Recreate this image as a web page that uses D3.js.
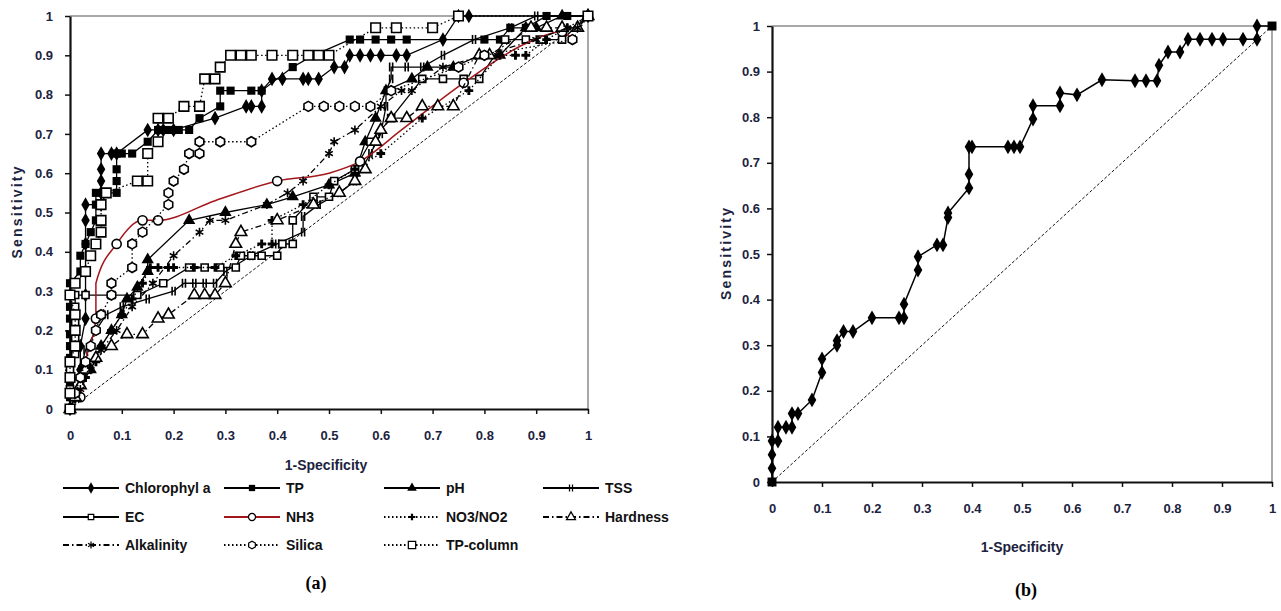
<!DOCTYPE html>
<html>
<head>
<meta charset="utf-8">
<script src="https://cdn.jsdelivr.net/npm/d3@7"></script>
<style>
  body { margin: 0; background: #fff; }
  svg text { font-family: "Liberation Sans Narrow", "Arial Narrow", "Liberation Sans", sans-serif; font-weight: bold; fill: #1c2340; }
  .tick text { font-size: 13px; }
  .title { font-size: 14px; }
  .legend text { font-size: 14px; fill: #111; }
  .panel { font-family: "Liberation Serif", serif !important; font-size: 18px; fill: #000 !important; }
</style>
</head>
<body>
<svg id="chart" width="1281" height="611"></svg>
<script>
// ticks shared by both panels
var tickValues = [0, 0.1, 0.2, 0.3, 0.4, 0.5, 0.6, 0.7, 0.8, 0.9, 1];
var tickLabels = ["0", "0.1", "0.2", "0.3", "0.4", "0.5", "0.6", "0.7", "0.8", "0.9", "1"];

// panel (a) series, [1-specificity, sensitivity]
var seriesNames = ["Chlorophyl a", "TP", "pH", "TSS", "EC", "NH3", "NO3/NO2", "Hardness", "Alkalinity", "Silica", "TP-column"];

var chlorophyll = [[0,0],[0.01,0.03],[0.02,0.06],[0.02,0.1],[0.02,0.16],[0.03,0.23],[0.03,0.29],[0.03,0.35],[0.03,0.42],[0.03,0.48],[0.03,0.52],[0.06,0.52],[0.06,0.55],[0.06,0.58],[0.06,0.61],[0.06,0.65],[0.08,0.65],[0.09,0.65],[0.15,0.71],[0.17,0.71],[0.18,0.71],[0.2,0.71],[0.28,0.74],[0.34,0.77],[0.35,0.77],[0.37,0.77],[0.37,0.81],[0.39,0.84],[0.41,0.84],[0.45,0.84],[0.46,0.84],[0.48,0.84],[0.51,0.87],[0.53,0.87],[0.54,0.9],[0.56,0.9],[0.58,0.9],[0.6,0.9],[0.63,0.9],[0.65,0.9],[0.72,0.94],[0.75,1],[0.77,1],[1,1]];
var tp = [[0,0],[0,0.03],[0,0.06],[0,0.1],[0,0.13],[0,0.16],[0,0.19],[0,0.23],[0,0.26],[0,0.29],[0,0.32],[0.02,0.35],[0.02,0.39],[0.03,0.42],[0.04,0.45],[0.05,0.48],[0.05,0.52],[0.05,0.55],[0.07,0.55],[0.09,0.55],[0.09,0.58],[0.09,0.61],[0.09,0.65],[0.1,0.65],[0.12,0.65],[0.15,0.68],[0.17,0.71],[0.19,0.71],[0.21,0.71],[0.23,0.71],[0.25,0.74],[0.29,0.77],[0.29,0.81],[0.31,0.81],[0.35,0.81],[0.37,0.81],[0.43,0.87],[0.47,0.9],[0.54,0.94],[0.56,0.94],[0.59,0.94],[0.62,0.94],[0.65,0.94],[0.8,0.94],[0.83,0.94],[0.85,0.97],[0.88,0.97],[0.92,1],[0.96,1],[1,1]];
var ph = [[0,0],[0.01,0.03],[0.02,0.06],[0.04,0.1],[0.05,0.13],[0.06,0.16],[0.08,0.2],[0.1,0.24],[0.11,0.28],[0.13,0.31],[0.15,0.35],[0.15,0.38],[0.23,0.48],[0.3,0.5],[0.38,0.52],[0.43,0.54],[0.5,0.57],[0.55,0.6],[0.57,0.68],[0.59,0.74],[0.61,0.81],[0.66,0.84],[0.69,0.87],[0.74,0.87],[0.79,0.9],[0.81,0.9],[0.83,0.9],[0.88,0.97],[0.9,0.97],[0.95,1],[1,1]];
var tss = [[0,0],[0,0.05],[0.02,0.1],[0.03,0.15],[0.05,0.2],[0.07,0.24],[0.1,0.26],[0.15,0.28],[0.2,0.3],[0.22,0.32],[0.24,0.32],[0.26,0.32],[0.28,0.32],[0.3,0.35],[0.35,0.39],[0.4,0.42],[0.45,0.45],[0.45,0.49],[0.48,0.52],[0.52,0.55],[0.55,0.58],[0.58,0.65],[0.6,0.7],[0.61,0.77],[0.61,0.81],[0.62,0.84],[0.62,0.87],[0.65,0.87],[0.68,0.87],[0.72,0.9],[0.78,0.94],[0.85,0.97],[0.9,1],[1,1]];
var ec = [[0,0],[0,0.05],[0,0.1],[0.01,0.14],[0.01,0.18],[0.01,0.22],[0.01,0.26],[0.01,0.29],[0.03,0.29],[0.08,0.29],[0.13,0.29],[0.18,0.32],[0.23,0.36],[0.26,0.36],[0.29,0.36],[0.32,0.36],[0.33,0.39],[0.35,0.39],[0.37,0.39],[0.4,0.39],[0.41,0.42],[0.43,0.42],[0.43,0.48],[0.47,0.54],[0.5,0.54],[0.51,0.58],[0.55,0.61],[0.58,0.68],[0.62,0.74],[0.68,0.84],[0.72,0.84],[0.76,0.84],[0.79,0.84],[0.84,0.94],[0.88,0.94],[0.91,0.94],[0.95,0.94],[1,1]];
var nh3 = [[0.02,0.03],[0.03,0.12],[0.05,0.23],[0.05,0.32],[0.09,0.42],[0.14,0.48],[0.17,0.48],[0.28,0.53],[0.4,0.58],[0.5,0.6],[0.56,0.63],[0.64,0.71],[0.76,0.83],[0.88,0.93],[0.95,0.96],[0.97,0.94]];
var no3no2 = [[0,0],[0.01,0.04],[0.03,0.08],[0.05,0.12],[0.06,0.16],[0.08,0.2],[0.1,0.24],[0.12,0.28],[0.14,0.32],[0.155,0.36],[0.17,0.36],[0.19,0.36],[0.2,0.36],[0.24,0.36],[0.28,0.36],[0.32,0.39],[0.37,0.42],[0.39,0.42],[0.39,0.48],[0.45,0.52],[0.5,0.57],[0.55,0.61],[0.6,0.65],[0.68,0.74],[0.77,0.81],[0.83,0.9],[0.86,0.9],[0.88,0.9],[0.92,0.94],[0.96,0.97],[1,1]];
var hardness = [[0,0],[0.01,0.03],[0.02,0.06],[0.03,0.1],[0.05,0.13],[0.08,0.16],[0.11,0.19],[0.14,0.19],[0.17,0.23],[0.19,0.24],[0.24,0.29],[0.26,0.29],[0.28,0.29],[0.3,0.32],[0.32,0.42],[0.33,0.45],[0.4,0.48],[0.47,0.52],[0.52,0.55],[0.55,0.58],[0.57,0.61],[0.59,0.68],[0.6,0.71],[0.62,0.74],[0.65,0.74],[0.68,0.77],[0.71,0.77],[0.74,0.77],[0.79,0.9],[0.81,0.9],[0.89,0.97],[0.92,0.97],[0.95,0.97],[0.98,0.97],[1,1]];
var alkalinity = [[0,0],[0.02,0.05],[0.04,0.1],[0.06,0.15],[0.09,0.2],[0.12,0.26],[0.16,0.32],[0.2,0.39],[0.25,0.45],[0.27,0.48],[0.3,0.48],[0.38,0.52],[0.42,0.55],[0.45,0.58],[0.5,0.65],[0.51,0.68],[0.55,0.71],[0.6,0.77],[0.64,0.81],[0.66,0.81],[0.72,0.87],[0.8,0.9],[0.9,0.94],[0.96,0.97],[0.98,0.97],[1,1]];
var silica = [[0,0],[0.01,0.04],[0.02,0.08],[0.03,0.12],[0.04,0.16],[0.05,0.2],[0.06,0.24],[0.08,0.29],[0.08,0.32],[0.12,0.36],[0.12,0.42],[0.14,0.45],[0.19,0.52],[0.19,0.55],[0.2,0.58],[0.22,0.61],[0.23,0.65],[0.25,0.65],[0.25,0.68],[0.29,0.68],[0.35,0.68],[0.46,0.77],[0.49,0.77],[0.52,0.77],[0.55,0.77],[0.58,0.77],[0.62,0.81],[0.75,0.87],[0.8,0.9],[0.97,0.94],[1,1]];
var tpColumn = [[0,0],[0,0.04],[0,0.08],[0,0.12],[0.01,0.16],[0.01,0.2],[0.01,0.24],[0,0.29],[0.01,0.32],[0.03,0.35],[0.04,0.39],[0.05,0.42],[0.06,0.45],[0.06,0.48],[0.06,0.52],[0.07,0.55],[0.13,0.58],[0.15,0.58],[0.15,0.65],[0.17,0.68],[0.17,0.74],[0.19,0.74],[0.22,0.77],[0.25,0.77],[0.26,0.84],[0.28,0.84],[0.29,0.87],[0.31,0.9],[0.33,0.9],[0.35,0.9],[0.39,0.9],[0.43,0.9],[0.46,0.9],[0.48,0.9],[0.5,0.9],[0.59,0.97],[0.63,0.97],[0.7,0.97],[0.75,1],[1,1]];

var seriesData = [chlorophyll, tp, ph, tss, ec, nh3, no3no2, hardness, alkalinity, silica, tpColumn];

// panel (b) single ROC curve
var rocB = [[0,0],[0,0.03],[0,0.06],[0,0.09],[0.012,0.09],[0.012,0.12],[0.028,0.12],[0.04,0.12],[0.04,0.15],[0.052,0.15],[0.08,0.18],[0.1,0.24],[0.1,0.27],[0.13,0.3],[0.13,0.31],[0.143,0.33],[0.162,0.33],[0.2,0.36],[0.254,0.36],[0.264,0.36],[0.264,0.39],[0.292,0.465],[0.292,0.494],[0.33,0.52],[0.342,0.52],[0.352,0.58],[0.352,0.59],[0.394,0.645],[0.394,0.675],[0.394,0.735],[0.4,0.735],[0.472,0.735],[0.484,0.735],[0.496,0.735],[0.522,0.796],[0.522,0.825],[0.576,0.825],[0.576,0.853],[0.61,0.849],[0.66,0.882],[0.726,0.88],[0.748,0.88],[0.77,0.88],[0.774,0.914],[0.792,0.943],[0.816,0.943],[0.832,0.971],[0.856,0.971],[0.88,0.971],[0.902,0.971],[0.942,0.971],[0.97,0.971],[0.97,1],[1,1]];

var svg = d3.select("#chart");

var xA = d3.scaleLinear().domain([0, 1]).range([70, 588]);
var yA = d3.scaleLinear().domain([0, 1]).range([409, 16]);
var xB = d3.scaleLinear().domain([0, 1]).range([772, 1272]);
var yB = d3.scaleLinear().domain([0, 1]).range([482, 26]);

// extra marker shapes
var symbolBars = {
  draw: function (ctx, size) {
    var h = Math.sqrt(size) / 2;
    ctx.moveTo(-1.5, -h); ctx.lineTo(-1.5, h);
    ctx.moveTo(1.5, -h); ctx.lineTo(1.5, h);
  }
};
var symbolHex = {
  draw: function (ctx, size) {
    var r = Math.sqrt(size) / 1.8;
    for (var k = 0; k < 6; k++) {
      var a = Math.PI / 6 + k * Math.PI / 3;
      if (k == 0) ctx.moveTo(r * Math.cos(a), r * Math.sin(a));
      else ctx.lineTo(r * Math.cos(a), r * Math.sin(a));
    }
    ctx.closePath();
  }
};

var DOT = "1.5,2.5", DASHDOT = "6,3,1.5,3";
var styles = {
  "Chlorophyl a": { type: d3.symbolDiamond, size: 62, fill: "#000", stroke: "none", line: "#000", dash: null },
  "TP":           { type: d3.symbolSquare, size: 66, fill: "#000", stroke: "none", line: "#000", dash: null },
  "pH":           { type: d3.symbolTriangle, size: 66, fill: "#000", stroke: "none", line: "#000", dash: null },
  "TSS":          { type: symbolBars, size: 80, fill: "none", stroke: "#000", line: "#000", dash: null },
  "EC":           { type: d3.symbolSquare, size: 50, fill: "#fff", stroke: "#000", line: "#000", dash: null },
  "NH3":          { type: d3.symbolCircle, size: 66, fill: "#fff", stroke: "#000", line: "#a3161b", dash: null },
  "NO3/NO2":      { type: d3.symbolCross, size: 42, fill: "#000", stroke: "none", line: "#000", dash: DOT },
  "Hardness":     { type: d3.symbolTriangle, size: 58, fill: "#fff", stroke: "#000", line: "#000", dash: DASHDOT },
  "Alkalinity":   { type: d3.symbolAsterisk, size: 55, fill: "none", stroke: "#000", line: "#000", dash: DASHDOT },
  "Silica":       { type: symbolHex, size: 80, fill: "#fff", stroke: "#000", line: "#000", dash: DOT },
  "TP-column":    { type: d3.symbolSquare, size: 90, fill: "#fff", stroke: "#000", line: "#000", dash: DOT }
};

function frame(x, y, yPad) {
  var g = svg.append("g");
  g.append("line")
    .attr("x1", x(0)).attr("x2", x(1)).attr("y1", y(1)).attr("y2", y(1))
    .attr("stroke", "#a8a8a8").attr("stroke-width", 2);
  g.append("line")
    .attr("x1", x(1)).attr("x2", x(1)).attr("y1", y(1)).attr("y2", y(0))
    .attr("stroke", "#a8a8a8").attr("stroke-width", 2);

  var ax = g.append("g")
    .attr("transform", "translate(0," + y(0) + ")")
    .call(d3.axisBottom(x).tickValues(tickValues)
      .tickFormat(function (d, i) { return tickLabels[i]; })
      .tickSize(5).tickSizeOuter(0).tickPadding(17));
  var ay = g.append("g")
    .attr("transform", "translate(" + x(0) + ",0)")
    .call(d3.axisLeft(y).tickValues(tickValues)
      .tickFormat(function (d, i) { return tickLabels[i]; })
      .tickSize(5).tickSizeOuter(0).tickPadding(yPad));
  [ax, ay].forEach(function (a) {
    a.select(".domain").attr("stroke", "#111").attr("stroke-width", 2.2);
    a.selectAll(".tick line").attr("stroke", "#111").attr("stroke-width", 1.5);
  });
  // chance diagonal
  g.append("line")
    .attr("x1", x(0)).attr("y1", y(0)).attr("x2", x(1)).attr("y2", y(1))
    .attr("stroke", "#111").attr("stroke-width", 1).attr("stroke-dasharray", "3,2");
  return g;
}

function axisTitles(x, y, titleX, cx, ty) {
  svg.append("text").attr("class", "title")
    .attr("x", cx).attr("y", ty).attr("text-anchor", "middle")
    .text("1-Specificity");
  svg.append("text").attr("class", "title")
    .attr("transform", "translate(" + titleX + "," + ((y(0) + y(1)) / 2) + ") rotate(-90)")
    .attr("text-anchor", "middle").attr("dy", "0.35em")
    .attr("textLength", 92).attr("lengthAdjust", "spacing")
    .text("Sensitivity");
}

function marker(sel, st, scale) {
  var k = scale || 1;
  sel.attr("d", d3.symbol().type(st.type).size(st.size * k))
    .attr("fill", st.fill)
    .attr("stroke", st.stroke)
    .attr("stroke-width", st.stroke == "none" ? 0 : 1.6 * Math.sqrt(k));
}

// ---- panel (a)
frame(xA, yA, 12);
axisTitles(xA, yA, 17, 326, 470);

var lineA = d3.line().x(function (d) { return xA(d[0]); }).y(function (d) { return yA(d[1]); });

seriesNames.forEach(function (name, i) {
  var st = styles[name];
  var g = svg.append("g");
  var path = g.append("path")
    .datum(seriesData[i])
    .attr("d", name == "NH3" ? lineA.curve(d3.curveMonotoneX)(seriesData[i]) : lineA.curve(d3.curveLinear)(seriesData[i]))
    .attr("fill", "none")
    .attr("stroke", st.line)
    .attr("stroke-width", name == "NH3" ? 1.5 : 1.3);
  if (st.dash) path.attr("stroke-dasharray", st.dash);
  var pts = name == "NH3" ? seriesData[i].filter(function (d, k) { return k % 2 == 0 || d[1] > 0.4 && d[1] < 0.5; }) : seriesData[i];
  g.selectAll(".m").data(pts).enter().append("path")
    .attr("class", "m")
    .attr("transform", function (d) { return "translate(" + xA(d[0]) + "," + yA(d[1]) + ")"; })
    .call(marker, st);
});

// legend
var legendCols = [63, 224, 384, 543];
var legendRows = [488, 517, 545];
var legend = svg.append("g").attr("class", "legend");
seriesNames.forEach(function (name, i) {
  var st = styles[name];
  var lx = legendCols[i % 4], ly = legendRows[Math.floor(i / 4)];
  var item = legend.append("g").attr("transform", "translate(" + lx + "," + ly + ")");
  var l = item.append("line").attr("x1", 0).attr("x2", 56).attr("y1", 0).attr("y2", 0)
    .attr("stroke", st.line).attr("stroke-width", 1.8);
  if (st.dash) l.attr("stroke-dasharray", st.dash);
  item.append("path").attr("transform", "translate(28,0)").call(marker, st, 0.6);
  item.append("text").attr("x", 62).attr("dy", "0.36em").text(name);
});

svg.append("text").attr("class", "panel").attr("x", 316).attr("y", 589)
  .attr("text-anchor", "middle").text("(a)");

// ---- panel (b)
frame(xB, yB, 7);
axisTitles(xB, yB, 726, 1022, 552);

var lineB = d3.line().x(function (d) { return xB(d[0]); }).y(function (d) { return yB(d[1]); });
svg.append("path")
  .datum(rocB)
  .attr("d", lineB)
  .attr("fill", "none")
  .attr("stroke", "#000")
  .attr("stroke-width", 1.5);

svg.append("g").selectAll("path")
  .data(rocB)
  .enter().append("path")
  .attr("transform", function (d) { return "translate(" + xB(d[0]) + "," + yB(d[1]) + ")"; })
  .attr("d", function (d, k) {
    var ends = k == 0 || k == rocB.length - 1;
    return d3.symbol().type(ends ? d3.symbolSquare : d3.symbolDiamond).size(ends ? 80 : 64)();
  })
  .attr("fill", "#000");

svg.append("text").attr("class", "panel").attr("x", 1026).attr("y", 596)
  .attr("text-anchor", "middle").text("(b)");
</script>
</body>
</html>
